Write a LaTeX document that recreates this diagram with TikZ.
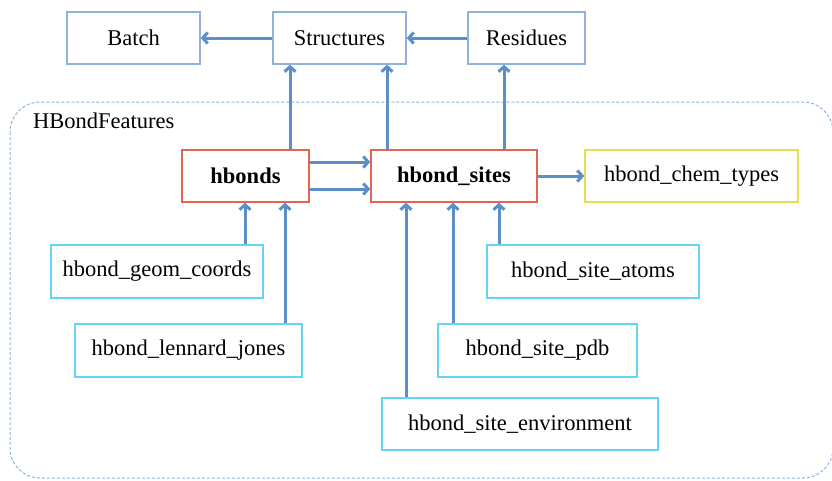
\documentclass[tikz,border=0pt]{standalone}
\usepackage{fontspec}
\setmainfont{Liberation Serif}
\usetikzlibrary{arrows.meta}
\definecolor{topc}{RGB}{142,178,222}
\definecolor{arrc}{RGB}{92,142,200}
\definecolor{redc}{RGB}{228,100,80}
\definecolor{yelc}{RGB}{226,222,80}
\definecolor{cyac}{RGB}{100,214,244}
\definecolor{dashc}{RGB}{140,178,222}
\begin{document}
\begin{tikzpicture}[x=1pt,y=-1pt,
  box/.style={draw, line width=1.4pt, fill=white, inner sep=0pt, font=\fontsize{22.5}{27}\selectfont},
  topbox/.style={box, draw=topc},
  redbox/.style={box, draw=redc, font=\fontsize{22.5}{27}\selectfont\bfseries},
  yelbox/.style={box, draw=yelc},
  cyabox/.style={box, draw=cyac},
  arr/.style={draw=arrc, line width=3pt, -{Straight Barb[length=5pt,width=11pt]}}]
\useasboundingbox (0,0) rectangle (832,480);
\begin{scope}
\clip (0,0) rectangle (832,480);
\draw[dashc, line width=1pt, dash pattern=on 3pt off 2pt, rounded corners=30pt] (10,102) rectangle (833,478);
\end{scope}
\node[anchor=base west, inner sep=0pt, font=\fontsize{22.5}{27}\selectfont] (lbl) at (33,128) {HBondFeatures};

\node[topbox, minimum width=133, minimum height=52] (batch) at (133.5,38) {Batch};
\node[topbox, minimum width=133, minimum height=52] (struct) at (339.5,38) {Structures};
\node[topbox, minimum width=117, minimum height=52] (resid) at (526.5,38) {Residues};
\node[redbox, minimum width=127, minimum height=52] (hbonds) at (245.5,176) {hbonds};
\node[redbox, minimum width=166, minimum height=52] (sites) at (454,176) {hbond\_sites};
\node[yelbox, minimum width=213, minimum height=52] (chem) at (691.5,176) {hbond\_chem\_types};
\node[cyabox, minimum width=212, minimum height=53] (geom) at (157,271.5) {hbond\_geom\_coords};
\node[cyabox, minimum width=227, minimum height=53] (lj) at (188.5,350.5) {hbond\_lennard\_jones};
\node[cyabox, minimum width=212, minimum height=53] (atoms) at (593,271.5) {hbond\_site\_atoms};
\node[cyabox, minimum width=199, minimum height=53] (pdb) at (537.5,350.5) {hbond\_site\_pdb};
\node[cyabox, minimum width=276, minimum height=52] (env) at (520,424) {hbond\_site\_environment};

\coordinate (xa) at (290,0);
\coordinate (xb) at (387,0);
\coordinate (xc) at (504,0);
\coordinate (xd) at (245,0);
\coordinate (xe) at (285,0);
\coordinate (xf) at (406,0);
\coordinate (xg) at (453,0);
\coordinate (xh) at (499,0);
\coordinate (ya) at (0,162);
\coordinate (yb) at (0,189);

\draw[arr] (struct.west) -- (batch.east);
\draw[arr] (resid.west) -- (struct.east);
\draw[arr] (hbonds.north -| xa) -- (struct.south -| xa);
\draw[arr] (sites.north -| xb) -- (struct.south -| xb);
\draw[arr] (sites.north -| xc) -- (resid.south -| xc);
\draw[arr] (hbonds.east |- ya) -- (sites.west |- ya);
\draw[arr] (hbonds.east |- yb) -- (sites.west |- yb);
\draw[arr] (sites.east) -- (chem.west);
\draw[arr] (geom.north -| xd) -- (hbonds.south -| xd);
\draw[arr] (lj.north -| xe) -- (hbonds.south -| xe);
\draw[arr] (env.north -| xf) -- (sites.south -| xf);
\draw[arr] (pdb.north -| xg) -- (sites.south -| xg);
\draw[arr] (atoms.north -| xh) -- (sites.south -| xh);
\end{tikzpicture}
\end{document}
